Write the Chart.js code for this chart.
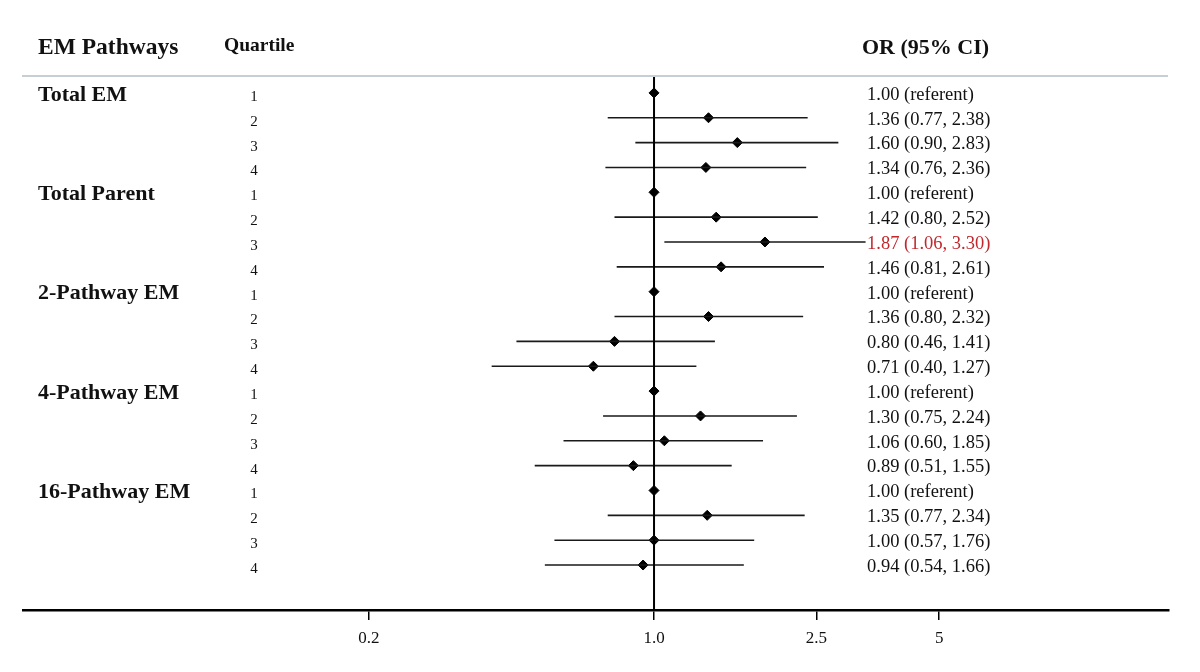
<!DOCTYPE html>
<html>
<head>
<meta charset="utf-8">
<script src="https://cdn.jsdelivr.net/npm/chart.js@4/dist/chart.umd.min.js"></script>
<style>
  html, body { margin: 0; padding: 0; background: #fff; }
  #wrap { width: 1200px; height: 672px; }
</style>
</head>
<body>
<div id="wrap"><canvas id="forest"></canvas></div>
<script>
// data
const groups = ['Total EM', 'Total Parent', '2-Pathway EM', '4-Pathway EM', '16-Pathway EM'];
const quartiles = [1, 2, 3, 4];
const orValues = [1.00, 1.36, 1.60, 1.34, 1.00, 1.42, 1.87, 1.46, 1.00, 1.36, 0.80, 0.71, 1.00, 1.30, 1.06, 0.89, 1.00, 1.35, 1.00, 0.94];
const ciLower = [null, 0.77, 0.90, 0.76, null, 0.80, 1.06, 0.81, null, 0.80, 0.46, 0.40, null, 0.75, 0.60, 0.51, null, 0.77, 0.57, 0.54];
const ciUpper = [null, 2.38, 2.83, 2.36, null, 2.52, 3.30, 2.61, null, 2.32, 1.41, 1.27, null, 2.24, 1.85, 1.55, null, 2.34, 1.76, 1.66];
const significant = [6];
const xTicks = [0.2, 1, 2.5, 5];
const tickLabels = ['0.2', '1.0', '2.5', '5'];

const Y_MIN = -0.68, Y_MAX = 20.81;
const SERIF = "'Liberation Serif', 'Times New Roman', serif";

// row index per estimate
const rows = orValues.map((v, i) => i);

// CI segments, broken by null points
const ciData = [];
rows.forEach(i => {
    if (ciLower[i] == null) return;
    ciData.push({ x: ciLower[i], y: i }, { x: ciUpper[i], y: i }, { x: null, y: null });
});

const orText = i => ciLower[i] == null
    ? orValues[i].toFixed(2) + ' (referent)'
    : orValues[i].toFixed(2) + ' (' + ciLower[i].toFixed(2) + ', ' + ciUpper[i].toFixed(2) + ')';

// テキスト列を描画するプラグイン
const forestText = {
    id: 'forestText',
    afterDraw(chart) {
        const { ctx, chartArea } = chart;
        const y = chart.scales.y;
        ctx.save();

        // header separator
        ctx.strokeStyle = '#c6d0d4';
        ctx.lineWidth = 2;
        ctx.beginPath();
        ctx.moveTo(22, chartArea.top);
        ctx.lineTo(1168, chartArea.top);
        ctx.stroke();

        ctx.fillStyle = '#111';
        ctx.textBaseline = 'middle';
        ctx.textAlign = 'left';
        ctx.font = 'bold 23.5px ' + SERIF;
        ctx.fillText('EM Pathways', 38, 48);
        ctx.font = 'bold 19.5px ' + SERIF;
        ctx.fillText('Quartile', 224, 46);
        ctx.font = 'bold 22px ' + SERIF;
        ctx.fillText('OR (95% CI)', 862, 48);

        // group labels
        ctx.font = 'bold 22px ' + SERIF;
        groups.forEach((g, gi) => {
            ctx.fillText(g, 38, y.getPixelForValue(gi * 4) + 2);
        });

        // quartile numbers
        ctx.font = '15px ' + SERIF;
        ctx.textAlign = 'center';
        rows.forEach(i => {
            ctx.fillText(String(quartiles[i % 4]), 254, y.getPixelForValue(i) + 4);
        });

        // OR (95% CI)
        ctx.font = '18.5px ' + SERIF;
        ctx.textAlign = 'left';
        rows.forEach(i => {
            ctx.fillStyle = significant.includes(i) ? '#c0282d' : '#111';
            ctx.fillText(orText(i), 867, y.getPixelForValue(i) + 2);
        });
        ctx.restore();
    }
};

const config = {
    type: 'scatter',
    data: {
        datasets: [
            {
                // line of no effect
                data: [{ x: 1, y: Y_MIN }, { x: 1, y: Y_MAX }],
                showLine: true,
                borderColor: '#000',
                borderWidth: 2,
                pointRadius: 0
            },
            {
                data: ciData,
                showLine: true,
                spanGaps: false,
                borderColor: '#1a1a1a',
                borderWidth: 1.6,
                pointRadius: 0
            },
            {
                data: rows.map(i => ({ x: orValues[i], y: i })),
                pointStyle: 'rectRot',
                pointRadius: 5,
                backgroundColor: '#000',
                borderColor: '#000'
            }
        ]
    },
    options: {
        responsive: false,
        animation: false,
        layout: { padding: { left: 23, right: 31, top: 76, bottom: 0 } },
        plugins: {
            legend: { display: false },
            tooltip: { enabled: false }
        },
        scales: {
            x: {
                type: 'logarithmic',
                bounds: 'data',
                min: 0.0284,
                max: 18.29,
                afterBuildTicks(scale) {
                    scale.ticks = xTicks.map(v => ({ value: v }));
                },
                afterFit(scale) { scale.height = 62; },
                ticks: {
                    autoSkip: false,
                    maxRotation: 0,
                    padding: 8,
                    color: '#111',
                    font: { family: SERIF, size: 17 },
                    callback: (v, idx) => tickLabels[idx]
                },
                grid: {
                    drawOnChartArea: false,
                    drawTicks: true,
                    tickLength: 10,
                    color: '#000',
                    lineWidth: 1.5
                },
                border: { color: '#000', width: 2.5 }
            },
            y: {
                type: 'linear',
                reverse: true,
                min: Y_MIN,
                max: Y_MAX,
                display: false
            }
        }
    },
    plugins: [forestText]
};

const canvas = document.getElementById('forest');
canvas.width = 1200;
canvas.height = 672;
new Chart(canvas, config);
</script>
</body>
</html>
